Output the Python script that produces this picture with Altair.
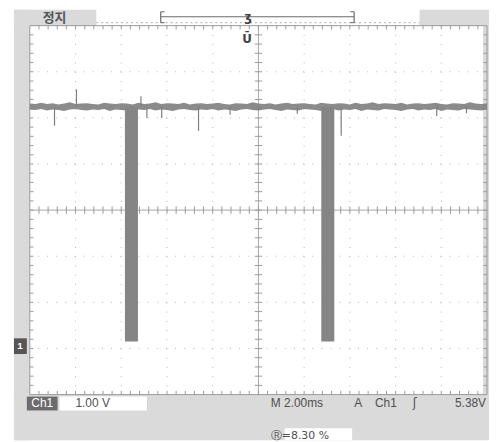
import altair as alt
import pandas as pd

# ---------------- data read from the screen ----------------
# x: time in ms (10 div x 2.00 ms), y: volts (1.00 V/div, ground 3 div below centre)
X_DOMAIN = [0, 20]
Y_DOMAIN = [-1, 7]

pulse_start = [4.16, 12.75]
pulse_end = [4.73, 13.32]
pulse_top = [5.24, 5.24]
pulse_low = [0.15, 0.15]

trace_t = [i * 0.25 for i in range(81)]
trace_hi = [5.31, 5.30, 5.33, 5.30, 5.32, 5.29, 5.31, 5.34, 5.30, 5.31, 5.32, 5.30, 5.29, 5.33, 5.31, 5.30, 5.32, 5.31, 5.29, 5.33,
            5.30, 5.31, 5.34, 5.30, 5.32, 5.31, 5.30, 5.33, 5.29, 5.31, 5.32, 5.30, 5.31, 5.33, 5.30, 5.29, 5.32, 5.31, 5.30, 5.34,
            5.31, 5.30, 5.32, 5.29, 5.31, 5.33, 5.30, 5.31, 5.32, 5.30, 5.29, 5.33, 5.31, 5.30, 5.32, 5.31, 5.29, 5.33, 5.30, 5.31,
            5.34, 5.30, 5.32, 5.31, 5.30, 5.33, 5.29, 5.31, 5.32, 5.30, 5.31, 5.33, 5.30, 5.29, 5.32, 5.31, 5.30, 5.34, 5.31, 5.30, 5.32]
trace_lo = [5.18, 5.17, 5.19, 5.16, 5.18, 5.17, 5.15, 5.18, 5.19, 5.17, 5.16, 5.18, 5.17, 5.19, 5.15, 5.18, 5.17, 5.16, 5.19, 5.18,
            5.17, 5.19, 5.16, 5.18, 5.17, 5.15, 5.18, 5.19, 5.17, 5.16, 5.18, 5.17, 5.19, 5.16, 5.18, 5.17, 5.15, 5.18, 5.19, 5.17,
            5.16, 5.18, 5.19, 5.17, 5.15, 5.18, 5.17, 5.16, 5.19, 5.18, 5.17, 5.15, 5.18, 5.19, 5.16, 5.18, 5.17, 5.19, 5.15, 5.18,
            5.17, 5.16, 5.19, 5.18, 5.17, 5.15, 5.18, 5.19, 5.16, 5.18, 5.17, 5.19, 5.15, 5.18, 5.17, 5.16, 5.19, 5.18, 5.17, 5.16, 5.18]

spike_t = [1.08, 2.04, 4.86, 5.12, 5.77, 7.38, 8.76, 11.70, 13.62, 17.80, 19.10]
spike_v = [4.83, 5.62, 5.47, 5.00, 5.00, 4.72, 5.07, 5.09, 4.61, 5.04, 5.10]
spike_base = 5.24

ground_v = 0.05

# ---------------- layout ----------------
W, H = 461, 372
GRAY = "#dadada"
INK = "#4f4f4f"
TRACE = "#7e7e7e"
FONT = "Liberation Sans"

xs = alt.Scale(domain=X_DOMAIN, nice=False, zero=False)
ys = alt.Scale(domain=Y_DOMAIN, nice=False, zero=False)
one = pd.DataFrame({"k": [0]})


def box(x0, x1, y0, y1, color, stroke=None):
    kw = dict(color=color)
    if stroke:
        kw = dict(fill=color, stroke=stroke, strokeWidth=1)
    return alt.Chart(one).mark_rect(**kw).encode(
        x=alt.value(x0), x2=alt.value(x1), y=alt.value(y0), y2=alt.value(y1))


def label(txt, x, y, size=12, color=INK, align="left", font=FONT, weight="normal"):
    return alt.Chart(one).mark_text(text=txt, fontSize=size, color=color, align=align,
                                    baseline="middle", font=font, fontWeight=weight).encode(
        x=alt.value(x), y=alt.value(y))


def pline(x0, x1, y0, y1, color="#777777", width=1, dash=None):
    kw = dict(color=color, strokeWidth=width)
    if dash:
        kw["strokeDash"] = dash
    return alt.Chart(one).mark_rule(**kw).encode(
        x=alt.value(x0), x2=alt.value(x1), y=alt.value(y0), y2=alt.value(y1))


layers = []
# screen frame (gray areas outside the graticule)
layers += [
    box(-16, 0, -16, 418, GRAY),
    box(-16, 67, -16, 0, GRAY),
    box(393, 463, -16, 0, GRAY),
    box(-16, 463, 372, 418, GRAY),
    box(457, 463, 0, 372, GRAY),
]

# dotted graticule lines
gx = pd.DataFrame({"t": [2, 4, 6, 8, 12, 14, 16, 18]})
gy = pd.DataFrame({"v": [0, 1, 2, 4, 5, 6]})
layers.append(alt.Chart(gx).mark_rule(color="#b5b5b5", strokeWidth=1, strokeDash=[1, 8.3]).encode(
    x=alt.X("t:Q", scale=xs, axis=None)))
layers.append(alt.Chart(gy).mark_rule(color="#b5b5b5", strokeWidth=1, strokeDash=[1, 8.22]).encode(
    y=alt.Y("v:Q", scale=ys, axis=None)))

# centre cross and border
layers.append(alt.Chart(pd.DataFrame({"t": [10]})).mark_rule(color="#a8a8a8", strokeWidth=1).encode(
    x=alt.X("t:Q", scale=xs, axis=None)))
layers.append(alt.Chart(pd.DataFrame({"v": [3]})).mark_rule(color="#a8a8a8", strokeWidth=1).encode(
    y=alt.Y("v:Q", scale=ys, axis=None)))
layers.append(alt.Chart(pd.DataFrame({"t": [0, 20]})).mark_rule(color="#9a9a9a", strokeWidth=1).encode(
    x=alt.X("t:Q", scale=xs, axis=None)))
layers.append(alt.Chart(pd.DataFrame({"v": [-1, 7]})).mark_rule(color="#9a9a9a", strokeWidth=1).encode(
    y=alt.Y("v:Q", scale=ys, axis=None)))

# minor ticks (every 0.2 division)
tick_t = [i * 0.4 for i in range(1, 50)]
tick_v = [-1 + i * 0.2 for i in range(1, 40)]
hrows = []
for t in tick_t:
    hrows += [dict(t=t, a=2.92, b=3.08), dict(t=t, a=6.92, b=7.0), dict(t=t, a=-1.0, b=-0.92)]
vrows = []
for v in tick_v:
    vrows += [dict(v=v, a=9.84, b=10.16), dict(v=v, a=0.0, b=0.16), dict(v=v, a=19.84, b=20.0)]
layers.append(alt.Chart(pd.DataFrame(hrows)).mark_rule(color="#9a9a9a", strokeWidth=1).encode(
    x=alt.X("t:Q", scale=xs, axis=None), y=alt.Y("a:Q", scale=ys, axis=None), y2="b:Q"))
layers.append(alt.Chart(pd.DataFrame(vrows)).mark_rule(color="#9a9a9a", strokeWidth=1).encode(
    y=alt.Y("v:Q", scale=ys, axis=None), x=alt.X("a:Q", scale=xs, axis=None), x2="b:Q"))

# trace
trace = pd.DataFrame({"t": trace_t, "hi": trace_hi, "lo": trace_lo})
layers.append(alt.Chart(trace).mark_area(color=TRACE, opacity=0.9).encode(
    x=alt.X("t:Q", scale=xs, axis=None), y=alt.Y("hi:Q", scale=ys, axis=None), y2="lo:Q"))
spikes = pd.DataFrame({"t": spike_t, "v": spike_v, "b": [spike_base] * len(spike_t)})
layers.append(alt.Chart(spikes).mark_rule(color=TRACE, strokeWidth=1.2).encode(
    x=alt.X("t:Q", scale=xs, axis=None), y=alt.Y("v:Q", scale=ys, axis=None), y2="b:Q"))
pulses = pd.DataFrame({"s": pulse_start, "e": pulse_end, "top": pulse_top, "low": pulse_low})
layers.append(alt.Chart(pulses).mark_rect(color="#858585").encode(
    x=alt.X("s:Q", scale=xs, axis=None), x2="e:Q",
    y=alt.Y("top:Q", scale=ys, axis=None), y2="low:Q"))

# ground marker
layers.append(alt.Chart(pd.DataFrame({"a": [ground_v + 0.17], "b": [ground_v - 0.17]})).mark_rect(color="#555555").encode(
    x=alt.value(-16), x2=alt.value(-3), y=alt.Y("a:Q", scale=ys, axis=None), y2="b:Q"))
layers.append(alt.Chart(pd.DataFrame({"v": [ground_v]})).mark_text(
    text="1", color="white", fontSize=10, font=FONT, fontWeight="bold", baseline="middle").encode(
    x=alt.value(-10), y=alt.Y("v:Q", scale=ys, axis=None)))

# top bar
layers += [
    label("정지", 13, -8, size=13, font="Noto Sans CJK KR", weight="bold", color="#555555"),
    pline(67, 393, -3, -3, color="#aaaaaa", dash=[2, 3]),
    pline(132, 327, -9, -9, color="#6a6a6a", width=1.2),
    pline(132, 132, -14, -3, color="#6a6a6a", width=1.2),
    pline(132, 136, -14, -14, color="#6a6a6a"),
    pline(132, 136, -3, -3, color="#6a6a6a"),
    pline(327, 327, -14, -3, color="#6a6a6a", width=1.2),
    pline(323, 327, -14, -14, color="#6a6a6a"),
    pline(323, 327, -3, -3, color="#6a6a6a"),
    label("ʒ", 220, -9, size=12, color="#444444", align="center", font="DejaVu Sans", weight="bold"),
    label("Ū", 219, 13, size=12, color="#444444", align="center", font="DejaVu Sans", weight="bold"),
]

# bottom read-out
layers += [
    box(-3, 28, 374, 388, "#6c6c6c"),
    label("Ch1", 12.5, 381, size=12, color="white", align="center"),
    box(30, 118, 374, 388, "white"),
    label("1.00 V", 46, 381, size=12),
    label("M 2.00ms", 243, 381, size=12),
    label("A", 327, 381, size=12),
    label("Ch1", 348, 381, size=12),
    label("ʃ", 386, 381, size=12, font="DejaVu Sans"),
    label("5.38V", 460, 381, size=12, align="right"),
    box(257, 325, 406, 418, "white"),
    label("Ⓡ=8.30 %", 243, 414, size=11, font="DejaVu Sans"),
]

chart = alt.layer(*layers).properties(
    width=W, height=H,
    autosize=alt.AutoSizeParams(type="none"),
    padding={"left": 22, "top": 16, "right": 4, "bottom": 46},
    background="white",
).configure_view(stroke=None)

chart.save("out.html", embed_options={"renderer": "svg", "actions": False})
